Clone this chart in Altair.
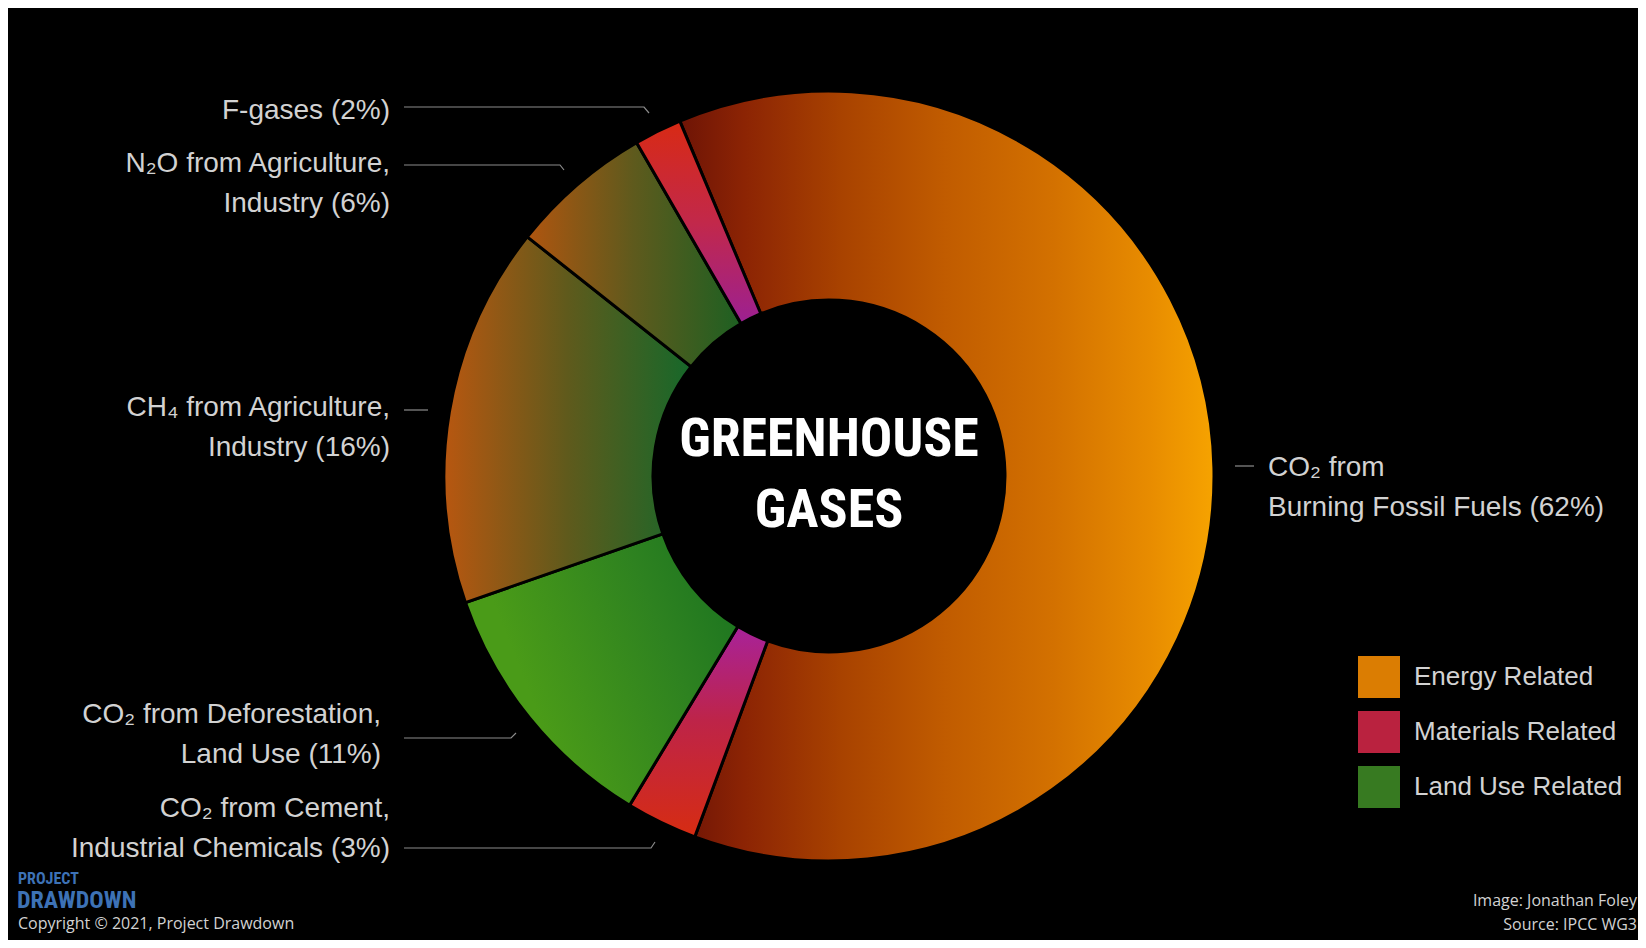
import math
import altair as alt
import pandas as pd

# ------------------------------------------------------------------ data
sources = [
    "CO₂ from Burning Fossil Fuels",
    "CO₂ from Cement, Industrial Chemicals",
    "CO₂ from Deforestation, Land Use",
    "CH₄ from Agriculture, Industry",
    "N₂O from Agriculture, Industry",
    "F-gases",
]
shares = [62, 3, 11, 16, 6, 2]
label_lines = [
    ["CO₂ from", "Burning Fossil Fuels (62%)"],
    ["CO₂ from Cement,", "Industrial Chemicals (3%)"],
    ["CO₂ from Deforestation,", "Land Use (11%)"],
    ["CH₄ from Agriculture,", "Industry (16%)"],
    ["N₂O from Agriculture,", "Industry (6%)"],
    ["F-gases (2%)"],
]
legend_groups = ["Energy Related", "Materials Related", "Land Use Related"]
legend_colors = ["#DB7D02", "#BA223F", "#377A21"]
center_title = ["GREENHOUSE", "GASES"]
logo_lines = ["PROJECT", "DRAWDOWN"]
copyright_text = "Copyright © 2021, Project Drawdown"
credit_lines = ["Image: Jonathan Foley", "Source: IPCC WG3"]

# ------------------------------------------------------------------ layout / style
W, H = 1630, 932
CX, CY = 821, 468
R_OUT, R_IN = 385, 176
START = 2 * math.pi + math.radians(-22.8)
LABEL_FONT = "Liberation Sans, Arial, Helvetica, sans-serif"
COND_FONT = "Roboto Condensed, DejaVu Sans Condensed, Liberation Sans Narrow, sans-serif"
LABEL_COLOR = "#D2D2D2"
LABEL_SIZE = 28
LINE_H = 40

# label anchors (x, first-line y, align) per slice
label_pos = [
    (1260, 460, "left"),
    (382, 801, "right"),
    (373, 707, "right"),
    (382, 400, "right"),
    (382, 156, "right"),
    (382, 103, "right"),
]
# leader line paths per slice
leader_paths = [
    [(1227, 458), (1246, 458)],
    [(396, 840), (643, 840), (647, 834)],
    [(396, 730), (503, 730), (508, 725)],
    [(396, 402), (420, 402)],
    [(396, 157), (552, 157), (556, 162)],
    [(396, 99), (636, 99), (641, 105)],
]


def grad(stops, x2=1, y2=0):
    return alt.Gradient(
        gradient="linear", x1=0, y1=0, x2=x2, y2=y2,
        stops=[alt.GradientStop(offset=o, color=c) for o, c in stops],
    )


slice_fills = [
    grad([(0, "#6E1406"), (0.12, "#8C2404"), (0.3, "#A84200"), (0.5, "#C15C00"),
          (0.7, "#D37100"), (0.88, "#E88C00"), (1, "#F6A300")]),
    grad([(0, "#A8229A"), (0.45, "#BE2448"), (1, "#D62C12")], x2=0, y2=1),
    grad([(0, "#4A9B18"), (0.5, "#2E8220"), (1, "#0F6B20")], x2=1, y2=-0.4),
    grad([(0, "#B85710"), (0.5, "#5F5A1C"), (1, "#16682A")]),
    grad([(0, "#B0550F"), (0.5, "#5E5A1D"), (1, "#1D6022")]),
    grad([(0, "#D82A14"), (0.5, "#C2284A"), (1, "#9C2092")], x2=0, y2=1),
]

# ------------------------------------------------------------------ tables
slices_df = pd.DataFrame({"order": range(len(sources)), "source": sources, "share": shares})

label_rows = []
for i, lines in enumerate(label_lines):
    x0, y0, al = label_pos[i]
    for j, t in enumerate(lines):
        label_rows.append({"text": t, "x": x0, "y": y0 + j * LINE_H, "align": al, "source": sources[i]})
labels_df = pd.DataFrame(label_rows)

leader_rows = []
for i, path in enumerate(leader_paths):
    for k, (px_, py_) in enumerate(path):
        leader_rows.append({"source": sources[i], "k": k, "x": px_, "y": py_})
leader_df = pd.DataFrame(leader_rows)

legend_df = pd.DataFrame({"group": legend_groups})

# ------------------------------------------------------------------ chart
theta_scale = alt.Scale(domain=[0, 100], range=[START, START + 2 * math.pi])

base = (
    alt.Chart(slices_df)
    .transform_window(cum="sum(share)", sort=[alt.SortField("order")], frame=[None, 0])
    .transform_calculate(start="datum.cum - datum.share")
)

arcs = []
for i in range(len(sources)):
    arcs.append(
        base.transform_filter(alt.datum.order == i)
        .mark_arc(innerRadius=R_IN, outerRadius=R_OUT, fill=slice_fills[i],
                  stroke="black", strokeWidth=3)
        .encode(
            theta=alt.Theta("start:Q", scale=theta_scale),
            theta2="cum:Q",
            x=alt.value(CX),
            y=alt.value(CY),
            tooltip=["source:N", "share:Q"],
        )
    )

px = alt.X("x:Q", scale=None, axis=None)
py = alt.Y("y:Q", scale=None, axis=None)

leaders = alt.Chart(leader_df).mark_line(color="#8C8C8C", strokeWidth=1.2).encode(
    x=px, y=py, detail="source:N", order="k:Q"
)

labels_right = alt.Chart(labels_df).transform_filter(alt.datum.align == "right").mark_text(
    align="right", baseline="middle", font=LABEL_FONT, fontSize=LABEL_SIZE, color=LABEL_COLOR
).encode(x=px, y=py, text="text:N")

labels_left = alt.Chart(labels_df).transform_filter(alt.datum.align == "left").mark_text(
    align="left", baseline="middle", font=LABEL_FONT, fontSize=LABEL_SIZE, color=LABEL_COLOR
).encode(x=px, y=py, text="text:N")

center_df = pd.DataFrame({"text": center_title, "x": [CX, CX], "y": [CY - 36, CY + 35]})
center = alt.Chart(center_df).mark_text(
    align="center", baseline="middle", font=COND_FONT,
    fontWeight="bold", fontSize=54, color="white"
).encode(x=px, y=py, text="text:N")

logo_df = pd.DataFrame({"text": logo_lines, "x": [10, 9], "y": [871, 893], "size": [16, 24]})
logo = alt.Chart(logo_df).mark_text(
    align="left", baseline="middle", font=COND_FONT,
    fontWeight="bold", color="#3D72B6"
).encode(x=px, y=py, text="text:N", size=alt.Size("size:Q", scale=None, legend=None))

copy_df = pd.DataFrame({"text": [copyright_text], "x": [10], "y": [916]})
copyright = alt.Chart(copy_df).mark_text(
    align="left", baseline="middle", font="Open Sans", fontSize=16, color="#D2D2D2"
).encode(x=px, y=py, text="text:N")

credit_df = pd.DataFrame({"text": credit_lines, "x": [1629, 1629], "y": [893, 917]})
credit = alt.Chart(credit_df).mark_text(
    align="right", baseline="middle", font="Open Sans", fontSize=16, color="#D2D2D2"
).encode(x=px, y=py, text="text:N")

legend_layer = alt.Chart(legend_df).mark_square(opacity=0).encode(
    x=alt.value(0), y=alt.value(0),
    color=alt.Color(
        "group:N",
        scale=alt.Scale(domain=legend_groups, range=legend_colors),
        legend=alt.Legend(
            title=None, orient="none", legendX=1350, legendY=648,
            symbolType="square", symbolSize=1764, symbolOpacity=1, symbolStrokeWidth=0,
            labelFont=LABEL_FONT, labelFontSize=26, labelColor=LABEL_COLOR,
            labelOffset=14, rowPadding=13, padding=0, labelLimit=400,
        ),
    ),
)

chart = alt.layer(
    *arcs, leaders, labels_right, labels_left, center, logo, copyright, credit, legend_layer
).properties(
    width=W, height=H, background="black", padding=0,
    autosize=alt.AutoSizeParams(type="none"),
).configure_view(stroke=None)

chart.save("out.html", embed_options={"renderer": "svg", "actions": False})
